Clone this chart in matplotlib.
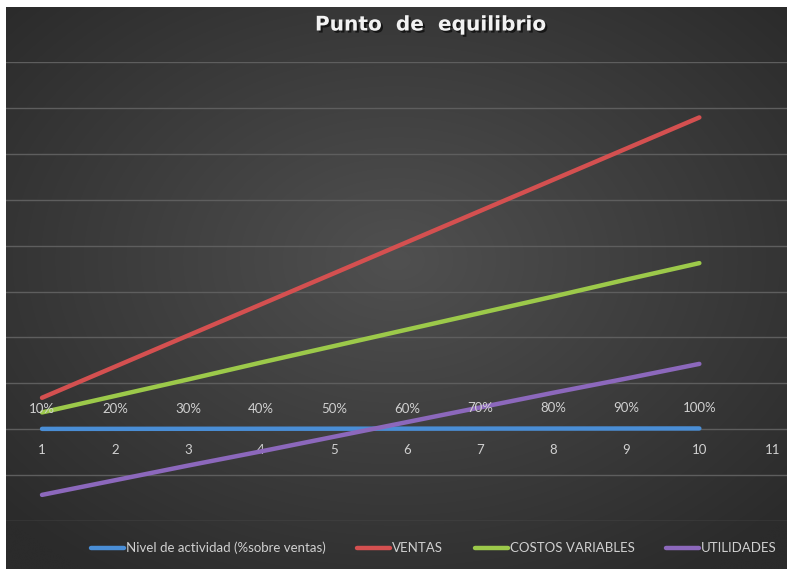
import numpy as np
import matplotlib
matplotlib.use("Agg")
import matplotlib.pyplot as plt
import matplotlib.patheffects as pe
from matplotlib import font_manager

names = {f.name for f in font_manager.fontManager.ttflist}
narrow = 'Liberation Sans Narrow' if 'Liberation Sans Narrow' in names else 'Lato'

x_cats = [1, 2, 3, 4, 5, 6, 7, 8, 9, 10]
x_labels = ["1", "2", "3", "4", "5", "6", "7", "8", "9", "10", "11"]
nivel = [0.1, 0.2, 0.3, 0.4, 0.5, 0.6, 0.7, 0.8, 0.9, 1.0]
nivel_labels = ["10%", "20%", "30%", "40%", "50%", "60%", "70%", "80%", "90%", "100%"]
ventas = [68, 136, 204, 272, 340, 408, 476, 544, 612, 680]
costos_variables = [36, 72, 108, 145, 181, 217, 253, 289, 326, 362]
utilidades = [-144, -112, -80, -49, -17, 15, 47, 79, 110, 142]

W, H = 787, 569
fig = plt.figure(figsize=(W / 100, H / 100), dpi=100)
fig.patch.set_facecolor("white")

# background with radial gradient
bg = fig.add_axes([6 / W, 0, (W - 6) / W, (H - 7) / H])
gx, gy = np.meshgrid(np.linspace(-1, 1, 400), np.linspace(-1, 1, 300))
r = np.sqrt((gx / 1.0) ** 2 + ((gy + 0.1) / 1.0) ** 2)
r = np.clip(r / 1.35, 0, 1)
c = 0x50 / 255 * (1 - r) + 0x2b / 255 * r
img = np.dstack([c, c, c])
bg.imshow(img, aspect="auto", extent=[0, 1, 0, 1], interpolation="bicubic")
bg.set_axis_off()

ax = fig.add_axes([6 / W, (H - 521) / H, (W - 6) / W, (521 - 62) / H])
ax.set_facecolor("none")
ax.set_xlim(0.507, 11.2)
ax.set_ylim(-201, 801)
ax.set_yticks(np.arange(-200, 801, 100))
ax.yaxis.grid(True, color="#5e5e5e", linewidth=1.0)
ax.tick_params(axis="y", length=0, labelleft=False)
for s in ax.spines.values():
    s.set_visible(False)
ax.spines["bottom"].set_position(("data", 0))
ax.set_xticks(range(1, 12))
ax.set_xticklabels(x_labels)
ax.tick_params(axis="x", length=0, pad=11, labelsize=9.5, labelcolor="#d0d0d0")
for t in ax.get_xticklabels():
    t.set_fontfamily([narrow, "DejaVu Sans"])
ax.set_axisbelow(True)

lw = 3.2
ax.plot(x_cats, nivel, color="#4a8ed6", lw=lw, solid_capstyle="round",
        label="Nivel de actividad (%sobre ventas)", zorder=3)
ax.plot(x_cats, ventas, color="#d45050", lw=lw, solid_capstyle="round",
        label="VENTAS", zorder=3)
ax.plot(x_cats, costos_variables, color="#9cc94a", lw=lw, solid_capstyle="round",
        label="COSTOS VARIABLES", zorder=3)
ax.plot(x_cats, utilidades, color="#8c68bc", lw=lw, solid_capstyle="round",
        label="UTILIDADES", zorder=4)

for xv, yv, lab in zip(x_cats, nivel, nivel_labels):
    ax.annotate(lab, (xv, yv), xytext=(0, 14.5), textcoords="offset points",
                ha="center", va="center", fontsize=9.5, color="#d0d0d0",
                family=[narrow, "DejaVu Sans"], zorder=5)

fig.text(431 / W, 1 - 25 / H, "Punto  de  equilibrio", ha="center", va="center",
         fontsize=14.5, fontweight="bold", color="#f2f2f2",
         path_effects=[pe.withSimplePatchShadow(offset=(1.5, -1.5), shadow_rgbFace="black", alpha=0.6)])

leg = fig.legend(loc="center", bbox_to_anchor=(434 / W, 21 / H), ncol=4, frameon=False,
                 fontsize=9.5, handlelength=2.5, handletextpad=0.15, columnspacing=2.4,
                 prop={"family": [narrow, "DejaVu Sans"], "size": 9.5})
for t in leg.get_texts():
    t.set_color("#d0d0d0")

fig.savefig("out.png", dpi=100)
